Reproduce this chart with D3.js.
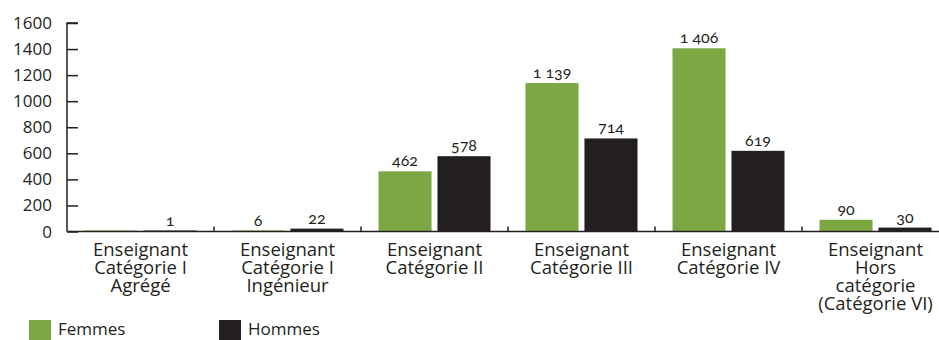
<!DOCTYPE html>
<html>
<head>
<meta charset="utf-8">
<script src="https://cdn.jsdelivr.net/npm/d3@7"></script>
<style>
  html, body { margin: 0; padding: 0; background: #fff; }
  svg { display: block; }
  text { font-family: "Open Sans", Lato, sans-serif; fill: #231f20; }
  .val { font-family: Lato, serif; font-variant-numeric: oldstyle-nums; }
</style>
</head>
<body>
<svg id="chart" width="939" height="340"></svg>
<script>
// Enseignants par catégorie et par sexe
const categories = [
  ["Enseignant", "Catégorie I", "Agrégé"],
  ["Enseignant", "Catégorie I", "Ingénieur"],
  ["Enseignant", "Catégorie II"],
  ["Enseignant", "Catégorie III"],
  ["Enseignant", "Catégorie IV"],
  ["Enseignant", "Hors", "catégorie", "(Catégorie VI)"]
];
const femmes = [0, 6, 462, 1139, 1406, 90];
const hommes = [1, 22, 578, 714, 619, 30];
const femmesLabels = [null, "6", "462", "1 139", "1 406", "90"];
const hommesLabels = ["1", "22", "578", "714", "619", "30"];
const seriesNames = ["Femmes", "Hommes"];
const colors = ["#7ca843", "#231f20"];
const yTicks = [0, 200, 400, 600, 800, 1000, 1200, 1400, 1600];

const svg = d3.select("#chart");
const x0 = 67, x1 = 949, yBase = 231.5, yTop = 23;

const x = d3.scaleBand().domain(d3.range(categories.length)).range([x0, x1]).paddingInner(0).paddingOuter(0);
const xs = d3.scaleBand().domain([0, 1]).range([17.5, x.bandwidth() - 17.5]).paddingInner(0.1);
const y = d3.scaleLinear().domain([0, 1600]).range([yBase, yTop]);

const series = [femmes, hommes];
const labels = [femmesLabels, hommesLabels];

// bars
const groups = svg.append("g").selectAll("g")
  .data(categories.map((c, i) => i))
  .join("g")
  .attr("transform", i => `translate(${x(i)},0)`);

series.forEach((vals, s) => {
  groups.append("rect")
    .attr("x", xs(s))
    .attr("width", xs.bandwidth())
    .attr("y", i => Math.min(y(vals[i]), yBase - 1))
    .attr("height", i => Math.max(yBase - y(vals[i]), 1))
    .attr("fill", colors[s]);
  groups.filter(i => labels[s][i] !== null).append("text")
    .attr("class", "val")
    .attr("x", xs(s) + xs.bandwidth() / 2)
    .attr("y", i => y(vals[i]) - 5)
    .attr("text-anchor", "middle")
    .attr("font-size", 16)
    .text(i => labels[s][i]);
});

// y axis
const yAxis = d3.axisRight(y).tickValues(yTicks).tickSize(11).tickFormat("");
const gy = svg.append("g").attr("transform", `translate(${x0},0)`).call(yAxis);
gy.select(".domain").attr("d", `M11,${yTop}H0V${yBase}`).attr("stroke", "#231f20").attr("stroke-width", 1.5);
gy.selectAll(".tick line").attr("stroke", "#231f20").attr("stroke-width", 1.5);
svg.append("g").selectAll("text").data(yTicks).join("text")
  .attr("x", 52).attr("y", d => y(d) + 6)
  .attr("text-anchor", "end")
  .attr("font-size", 17)
  .attr("font-weight", 500)
  .text(d => d);

// x axis baseline with category separators
svg.append("line").attr("x1", x0).attr("x2", 939).attr("y1", yBase).attr("y2", yBase)
  .attr("stroke", "#231f20").attr("stroke-width", 1.5);
svg.append("g").selectAll("line").data(d3.range(1, categories.length)).join("line")
  .attr("x1", i => x(i)).attr("x2", i => x(i))
  .attr("y1", yBase - 5).attr("y2", yBase)
  .attr("stroke", "#231f20").attr("stroke-width", 1.5);

// category labels
svg.append("g").selectAll("text").data(categories).join("text")
  .attr("text-anchor", "middle")
  .attr("font-size", 18.5)
  .attr("transform", (d, i) => `translate(${x(i) + x.bandwidth() / 2},256)`)
  .selectAll("tspan").data(d => d).join("tspan")
  .attr("x", 0).attr("dy", (d, j) => j === 0 ? 0 : 18)
  .text(d => d);

// legend
const leg = svg.append("g").selectAll("g").data(seriesNames).join("g")
  .attr("transform", (d, i) => `translate(${i === 0 ? 29 : 219},320)`);
leg.append("rect").attr("width", 22).attr("height", 20).attr("fill", (d, i) => colors[i]);
leg.append("text").attr("x", 29).attr("y", 15).attr("font-size", 17).text(d => d);
</script>
</body>
</html>
